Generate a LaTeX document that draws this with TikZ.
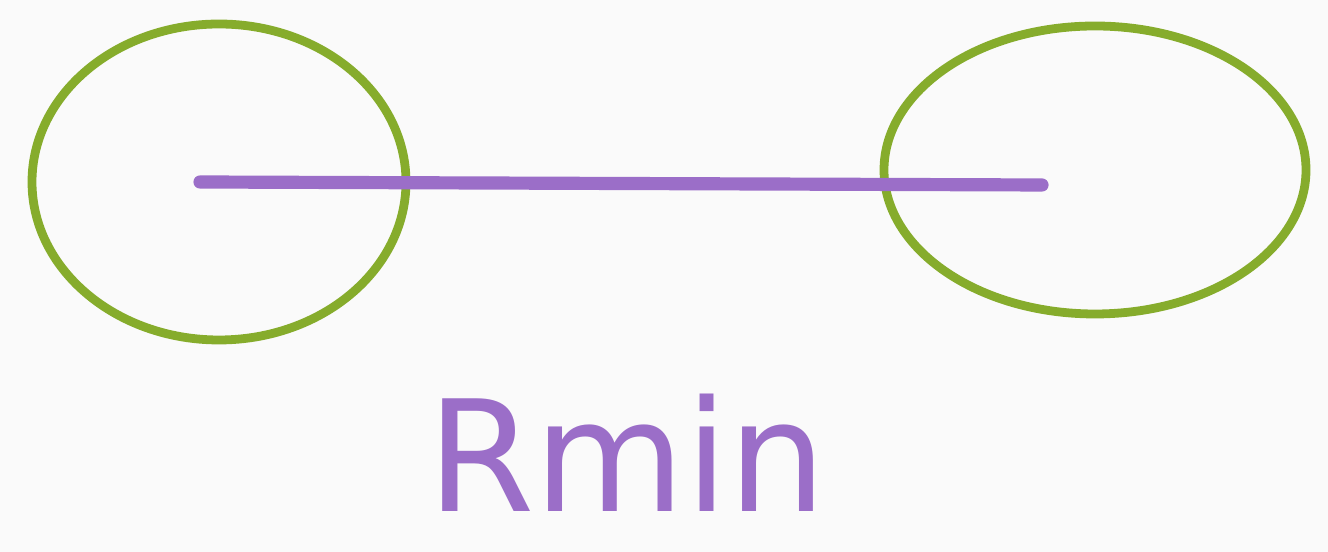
\documentclass[tikz,border=0pt]{standalone}
\usepackage{fontspec}
\setmainfont{DejaVu Sans}
\usetikzlibrary{shapes.geometric}
\definecolor{leaf}{HTML}{86AC2C}
\definecolor{lilac}{HTML}{9B6EC8}
\definecolor{paper}{HTML}{FAFAFA}

\begin{document}
\begin{tikzpicture}[
        blob/.style={ellipse, draw=leaf, line width=5pt},
        bond/.style={draw=lilac, line width=7.5pt, line cap=round}
      ]
      \fill[paper] (0,0) rectangle (26.56,11.04);
      \useasboundingbox (0,0) rectangle (26.56,11.04);
      \node[blob, minimum width=7.48cm, minimum height=6.32cm] (atomA) at (4.38,7.40) {};
      \node[blob, minimum width=8.44cm, minimum height=5.76cm] (atomB) at (21.90,7.64) {};
      \coordinate (ca) at (4.00,7.40);
      \coordinate (cb) at (20.84,7.34);
      \draw[bond] (ca) -- (cb);
      \node[text=lilac, font=\fontsize{88}{96}\selectfont, inner sep=0pt, anchor=base] (rmin) at (12.54,0.8) {Rmin};
    \end{tikzpicture}
\end{document}
